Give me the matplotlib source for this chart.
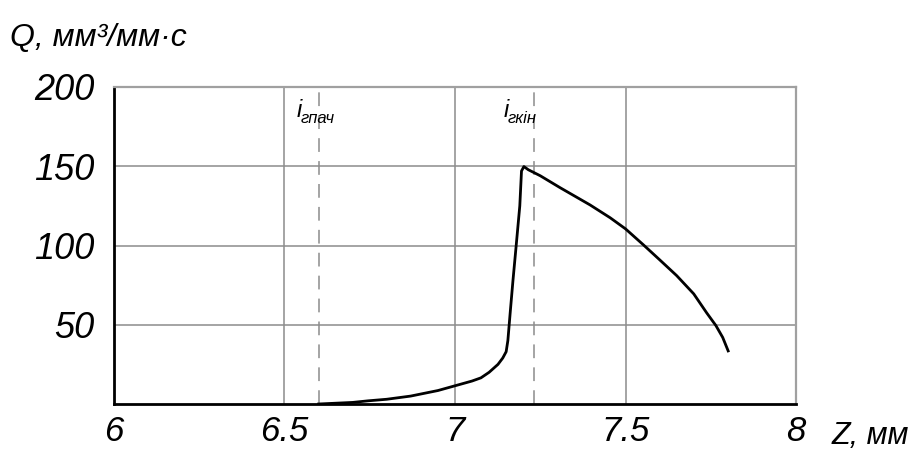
import matplotlib
matplotlib.use("Agg")
import matplotlib.pyplot as plt

# curve
z_mm = [6.6, 6.7, 6.745, 6.8, 6.87, 6.95, 7.0, 7.05, 7.076, 7.1, 7.126, 7.14,
        7.15, 7.155, 7.162, 7.17, 7.179, 7.19, 7.195, 7.202, 7.215, 7.25,
        7.308, 7.396, 7.455, 7.5, 7.552, 7.6, 7.65, 7.7, 7.738, 7.765, 7.785, 7.801]
q_val = [0, 1, 2, 3, 5, 8.5, 11.5, 14.5, 16.5, 20, 25, 29,
         33, 40, 58, 78, 99, 125, 147, 149.8, 147.8, 144,
         136.5, 125.6, 117.5, 110.5, 100.5, 91, 81, 69.5, 57.5, 49.5, 42, 33.5]

x_ticks = [6, 6.5, 7, 7.5, 8]
x_tick_labels = ["6", "6.5", "7", "7.5", "8"]
y_ticks = [50, 100, 150, 200]
y_tick_labels = ["50", "100", "150", "200"]

z_start = 6.6   # i_гпач
z_end = 7.232   # i_гкін

FONT = ["Liberation Sans", "DejaVu Sans"]
plt.rcParams["font.family"] = FONT
plt.rcParams["font.style"] = "italic"

fig = plt.figure(figsize=(9.11, 4.51), dpi=100)
ax = fig.add_axes([0.1251, 0.1042, 0.7487, 0.7029])

ax.set_xlim(6, 8)
ax.set_ylim(0, 200)
ax.set_xticks(x_ticks)
ax.set_xticklabels(x_tick_labels)
ax.set_yticks(y_ticks)
ax.set_yticklabels(y_tick_labels)
ax.tick_params(length=0, labelsize=26)
ax.tick_params(axis="x", pad=8, labelsize=25)
ax.tick_params(axis="y", pad=14)

ax.grid(True, color="#8c8c8c", linewidth=1.1)
ax.set_axisbelow(True)
for side in ["top", "right"]:
    ax.spines[side].set_color("#a0a0a0")
    ax.spines[side].set_linewidth(1.6)
for side in ["left", "bottom"]:
    ax.spines[side].set_color("black")
    ax.spines[side].set_linewidth(2)

# markers of start / end of zone
for zz in [z_start, z_end]:
    ax.axvline(zz, color="#8c8c8c", linewidth=1.1, linestyle=(0, (9, 6)))

ax.plot(z_mm, q_val, color="black", linewidth=2, solid_joinstyle="round")

ax.text(z_start - 0.065, 185, "i", fontsize=17, ha="left", va="center")
ax.text(z_start - 0.052, 180, "гпач", fontsize=12, ha="left", va="center")
ax.text(z_end - 0.09, 185, "i", fontsize=17, ha="left", va="center")
ax.text(z_end - 0.077, 180, "гкін", fontsize=12, ha="left", va="center")

fig.text(0.011, 0.915, "Q, мм³/мм·с", fontsize=23, ha="left", va="center")
fig.text(0.913, 0.034, "Z, мм", fontsize=22, ha="left", va="center")

fig.savefig("out.png", dpi=100)
